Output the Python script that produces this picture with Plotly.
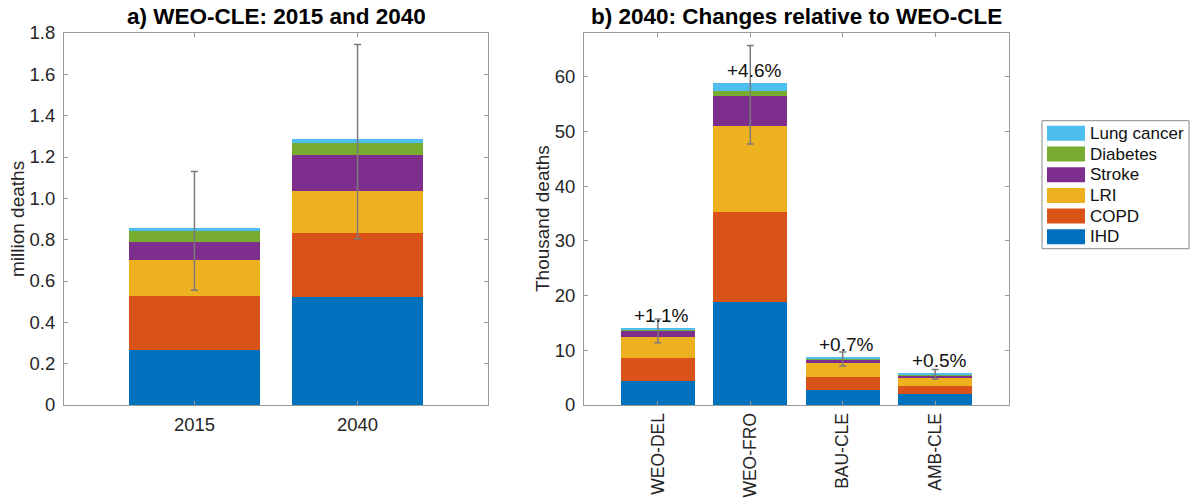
import plotly.graph_objects as go

# Causes of death, bottom to top of each stack
causes = ["IHD", "COPD", "LRI", "Stroke", "Diabetes", "Lung cancer"]
cause_colors = ["#0072BD", "#D95319", "#EDB120", "#7E2F8E", "#77AC30", "#4DBEEE"]

# Panel a: WEO-CLE deaths (million) in 2015 and 2040
years = ["2015", "2040"]
ihd_a = [0.266, 0.523]
copd_a = [0.263, 0.311]
lri_a = [0.174, 0.200]
stroke_a = [0.087, 0.174]
diabetes_a = [0.050, 0.061]
lung_a = [0.016, 0.018]
err_low_a = [0.555, 0.805]
err_high_a = [1.130, 1.744]
ytick_vals_a = [0, 0.2, 0.4, 0.6, 0.8, 1.0, 1.2, 1.4, 1.6, 1.8]
ytick_text_a = ["0", "0.2", "0.4", "0.6", "0.8", "1.0", "1.2", "1.4", "1.6", "1.8"]

# Panel b: 2040 changes relative to WEO-CLE (thousand deaths)
scenarios = ["WEO-DEL", "WEO-FRO", "BAU-CLE", "AMB-CLE"]
ihd_b = [4.38, 18.84, 2.74, 1.95]
copd_b = [4.19, 16.46, 2.43, 1.58]
lri_b = [3.89, 15.70, 2.55, 1.46]
stroke_b = [1.22, 5.40, 0.67, 0.48]
diabetes_b = [0.18, 1.00, 0.18, 0.12]
lung_b = [0.24, 1.50, 0.18, 0.25]
err_low_b = [11.4, 47.7, 7.11, 4.74]
err_high_b = [15.7, 65.7, 9.67, 6.50]
ytick_vals_b = [0, 10, 20, 30, 40, 50, 60]

W, H = 1198, 503
FONT = "Liberation Sans, Arial, Helvetica, sans-serif"
TXT = "#262626"
AXC = "#9a9a9a"
ERRC = "#7a7a7a"

series_a = [ihd_a, copd_a, lri_a, stroke_a, diabetes_a, lung_a]
series_b = [ihd_b, copd_b, lri_b, stroke_b, diabetes_b, lung_b]

fig = go.Figure()

for name, color, vals in zip(causes, cause_colors, series_a):
    fig.add_trace(go.Bar(x=years, y=vals, name=name, marker_color=color,
                         marker_line_width=0, width=0.8,
                         xaxis="x", yaxis="y", showlegend=False))
for name, color, vals in zip(causes, cause_colors, series_b):
    fig.add_trace(go.Bar(x=scenarios, y=vals, name=name, marker_color=color,
                         marker_line_width=0, width=0.8,
                         xaxis="x2", yaxis="y2", showlegend=False))

total_a = [sum(v) for v in zip(*series_a)]
total_b = [sum(v) for v in zip(*series_b)]


def add_errors(xs, totals, lows, highs, xa, ya):
    fig.add_trace(go.Scatter(
        x=xs, y=totals, mode="markers",
        marker=dict(size=1, color="rgba(0,0,0,0)"),
        error_y=dict(type="data", symmetric=False,
                     array=[h - t for h, t in zip(highs, totals)],
                     arrayminus=[t - l for t, l in zip(totals, lows)],
                     color=ERRC, thickness=1.5, width=3.5),
        xaxis=xa, yaxis=ya, showlegend=False, hoverinfo="skip"))


add_errors(years, total_a, err_low_a, err_high_a, "x", "y")
add_errors(scenarios, total_b, err_low_b, err_high_b, "x2", "y2")

# Percentage change of each scenario relative to the WEO-CLE 2040 total
annotations = []
for sc, tb in zip(scenarios, total_b):
    pct = tb / (total_a[1] * 1000) * 100
    annotations.append(dict(x=sc, y=tb, xref="x2", yref="y2", text=f"+{pct:.1f}%",
                            showarrow=False, xanchor="center", yanchor="bottom",
                            xshift=4, yshift=0,
                            font=dict(family=FONT, size=19, color="#111111")))

ax_top, ax_bot = 33, 405
ydom = [1 - ax_bot / H, 1 - ax_top / H]
xdom_a = [64 / W, 488 / W]
xdom_b = [584 / W, 1009 / W]

# Panel titles
for text, dom in [("a) WEO-CLE: 2015 and 2040", xdom_a),
                  ("b) 2040: Changes relative to WEO-CLE", xdom_b)]:
    annotations.append(dict(x=(dom[0] + dom[1]) / 2, y=ydom[1], xref="paper", yref="paper",
                            text=f"<b>{text}</b>", showarrow=False,
                            xanchor="center", yanchor="bottom",
                            yshift=2, font=dict(family=FONT, size=22.5, color="#000000")))

# Y-axis titles
annotations.append(dict(x=17 / W, y=(ydom[0] + ydom[1]) / 2, xref="paper", yref="paper",
                        text="million deaths", textangle=-90, showarrow=False,
                        xanchor="center", yanchor="middle",
                        font=dict(family=FONT, size=19, color=TXT)))
annotations.append(dict(x=542 / W, y=(ydom[0] + ydom[1]) / 2, xref="paper", yref="paper",
                        text="Thousand deaths", textangle=-90, showarrow=False,
                        xanchor="center", yanchor="middle",
                        font=dict(family=FONT, size=19, color=TXT)))

# Legend box, listed top to bottom in reverse stack order
shapes = [dict(type="rect", xref="paper", yref="paper",
               x0=1042 / W, x1=1189 / W, y0=1 - 248.7 / H, y1=1 - 120.7 / H,
               line=dict(color="#8a8a8a", width=1), fillcolor="white")]
row_y = 133.3
for name, color in zip(causes[::-1], cause_colors[::-1]):
    shapes.append(dict(type="rect", xref="paper", yref="paper",
                       x0=1047 / W, x1=1085 / W,
                       y0=1 - (row_y + 7.5) / H, y1=1 - (row_y - 7.5) / H,
                       line=dict(width=0), fillcolor=color))
    annotations.append(dict(x=1088 / W, y=1 - row_y / H, xref="paper", yref="paper",
                            text=name, showarrow=False, xanchor="left", yanchor="middle",
                            font=dict(family=FONT, size=17, color="#111111")))
    row_y += 20.7

axis_common = dict(showline=True, linecolor=AXC, linewidth=1, mirror="ticks",
                   ticks="inside", ticklen=4, tickcolor=AXC, showgrid=False,
                   zeroline=False, automargin=False,
                   tickfont=dict(family=FONT, size=18.5, color=TXT))

fig.update_layout(
    width=W, height=H,
    margin=dict(l=0, r=0, t=0, b=0, pad=0, autoexpand=False),
    paper_bgcolor="white", plot_bgcolor="white",
    barmode="stack",
    showlegend=False,
    font=dict(family=FONT, color=TXT),
    xaxis=dict(domain=xdom_a, anchor="y", type="category", range=[-0.8, 1.8],
               ticklabelstandoff=3, **axis_common),
    yaxis=dict(domain=ydom, anchor="x", range=[0, 1.8], tickvals=ytick_vals_a,
               ticktext=ytick_text_a, ticklabelstandoff=4, **axis_common),
    xaxis2=dict(domain=xdom_b, anchor="y2", type="category", range=[-0.8, 3.8],
                tickangle=-90, ticklabelstandoff=0, **axis_common),
    yaxis2=dict(domain=ydom, anchor="x2", range=[0, 68], tickvals=ytick_vals_b,
                ticklabelstandoff=4, **axis_common),
    annotations=annotations,
    shapes=shapes,
)

fig.update_xaxes(selector=dict(anchor="y2"), tickfont=dict(size=17.5))

fig.write_html("out.html")
